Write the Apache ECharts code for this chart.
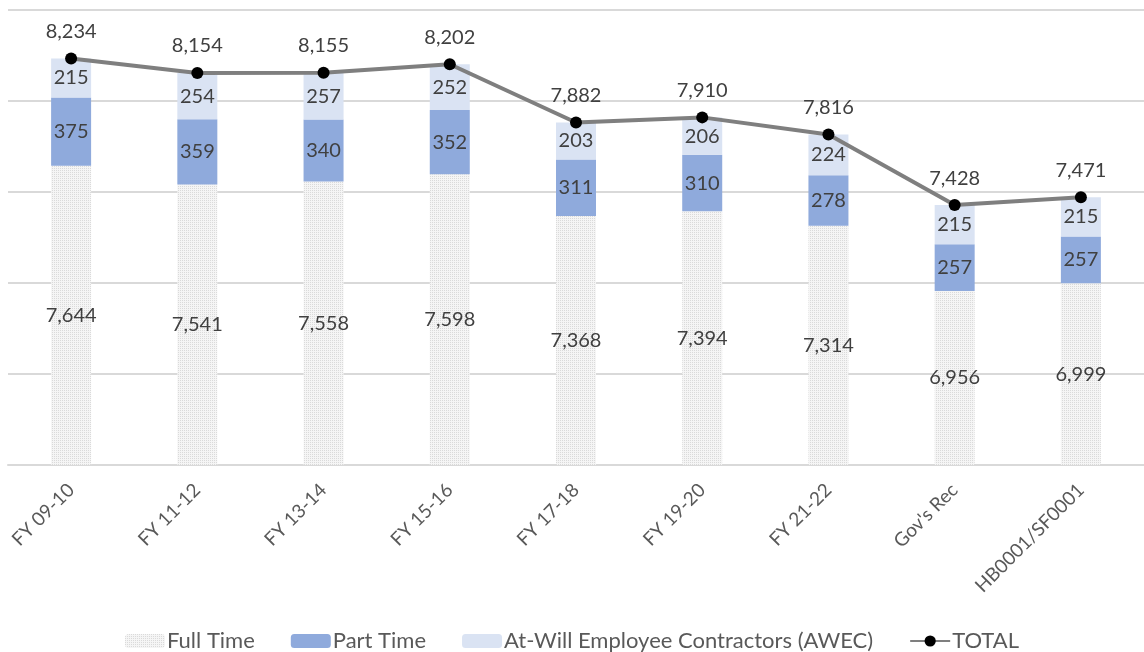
<!DOCTYPE html>
<html>
<head>
<meta charset="utf-8">
<script src="https://cdn.jsdelivr.net/npm/echarts@6/dist/echarts.min.js"></script>
<style>
  html, body { margin: 0; padding: 0; background: #fff; }
  #main { width: 1144px; height: 652px; }
</style>
</head>
<body>
<div id="main"></div>
<script>
var categories = ['FY 09-10', 'FY 11-12', 'FY 13-14', 'FY 15-16', 'FY 17-18', 'FY 19-20', 'FY 21-22', "Gov's Rec", 'HB0001/SF0001']
var fullTime = [7644, 7541, 7558, 7598, 7368, 7394, 7314, 6956, 6999]
var partTime = [375, 359, 340, 352, 311, 310, 278, 257, 257]
var awec = [215, 254, 257, 252, 203, 206, 224, 215, 215]
var total = [8234, 8154, 8155, 8202, 7882, 7910, 7816, 7428, 7471]

// dotted fill like the excel pattern
function makePattern() {
  var c = document.createElement('canvas')
  c.width = 4
  c.height = 4
  var ctx = c.getContext('2d')
  ctx.fillStyle = '#f5f5f5'
  ctx.fillRect(0, 0, 4, 4)
  ctx.fillStyle = '#dadada'
  ctx.fillRect(0, 0, 1, 1)
  ctx.fillRect(2, 2, 1, 1)
  ctx.fillRect(2, 0, 1, 1)
  ctx.fillRect(0, 2, 1, 1)
  return c
}
var pattern = { image: makePattern(), repeat: 'repeat' }

var fmt = function (p) { return p.value.toLocaleString('en-US') }
var labelFont = { fontFamily: 'Lato', fontSize: 20, color: '#404040' }

var myChart = echarts.init(document.getElementById('main'))
var option = {
  animation: false,
  textStyle: { fontFamily: 'Lato' },
  grid: { left: 8, right: 0, top: 10, bottom: 187 },
  legend: {
    bottom: -5,
    left: 'center',
    itemGap: 36,
    itemWidth: 40,
    itemHeight: 14,
    textStyle: { fontFamily: 'Lato', fontSize: 22, color: '#595959', padding: [0, 0, 0, -3] },
    data: ['Full Time', 'Part Time', 'At-Will Employee Contractors (AWEC)', 'TOTAL']
  },
  xAxis: {
    type: 'category',
    data: categories,
    axisLine: { lineStyle: { color: '#d9d9d9', width: 2 } },
    axisTick: { show: false },
    axisLabel: { rotate: 45, fontFamily: 'Lato', fontSize: 19, color: '#595959', margin: 22 }
  },
  yAxis: {
    type: 'value',
    min: 6000,
    max: 8500,
    interval: 500,
    axisLabel: { show: false },
    axisLine: { show: false },
    axisTick: { show: false },
    splitLine: { lineStyle: { color: '#d9d9d9', width: 2 } }
  },
  series: [
    {
      name: 'Full Time',
      type: 'bar',
      stack: 'fte',
      barWidth: 40,
      data: fullTime,
      itemStyle: { color: pattern },
      label: Object.assign({ show: true, position: 'inside', formatter: fmt }, labelFont)
    },
    {
      name: 'Part Time',
      type: 'bar',
      stack: 'fte',
      data: partTime,
      itemStyle: { color: '#8faadc' },
      label: Object.assign({ show: true, position: 'inside', formatter: fmt }, labelFont)
    },
    {
      name: 'At-Will Employee Contractors (AWEC)',
      type: 'bar',
      stack: 'fte',
      data: awec,
      itemStyle: { color: '#dae3f3' },
      label: Object.assign({ show: true, position: 'inside', formatter: fmt }, labelFont)
    },
    {
      name: 'TOTAL',
      type: 'line',
      data: total,
      z: 5,
      symbol: 'circle',
      symbolSize: 12,
      lineStyle: { color: '#7f7f7f', width: 4 },
      itemStyle: { color: '#000' },
      label: Object.assign({ show: true, position: 'top', distance: 11, formatter: fmt }, labelFont)
    }
  ]
}
myChart.setOption(option)
</script>
</body>
</html>
